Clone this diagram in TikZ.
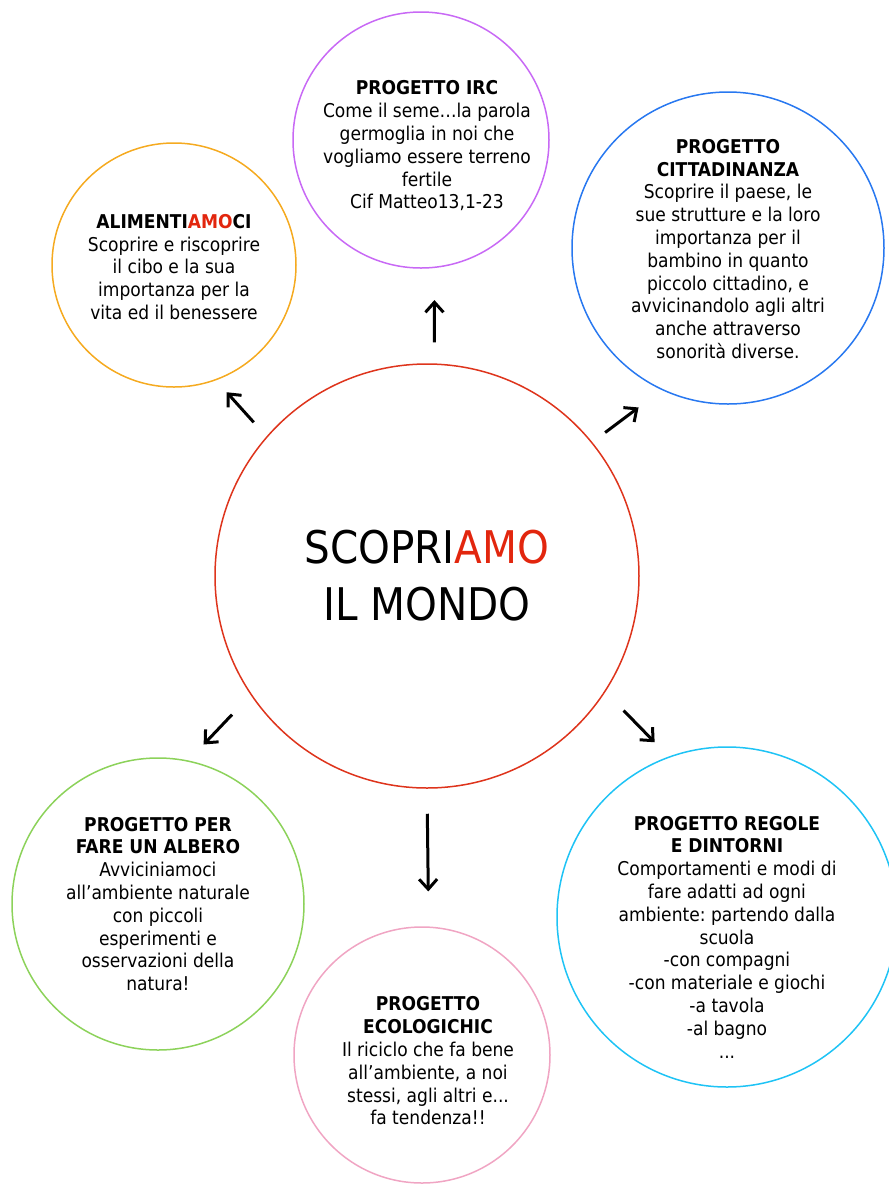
\documentclass[tikz,border=0pt]{standalone}
\usepackage{fontspec}
\setmainfont{DejaVu Sans Condensed}
\frenchspacing
\usetikzlibrary{arrows.meta}
\definecolor{rosso}{RGB}{222,52,28}
\definecolor{amo}{RGB}{226,38,14}
\definecolor{viola}{RGB}{200,105,245}
\definecolor{arancio}{RGB}{245,170,32}
\definecolor{blu}{RGB}{40,120,240}
\definecolor{verde}{RGB}{140,210,90}
\definecolor{rosa}{RGB}{240,165,195}
\definecolor{azzurro}{RGB}{30,195,245}
\begin{document}
\begin{tikzpicture}[x=1pt,y=-1pt,
  bolla/.style={circle,draw,line width=1.5pt,inner sep=0pt},
  testo/.style={align=center,font=\fontsize{19}{22.8}\selectfont},
  freccia/.style={-{Straight Barb[length=10pt,width=18pt]},line width=3pt}]
\useasboundingbox (0,0) rectangle (889,1187);
\node[bolla,draw=rosso,minimum size=424pt] (mondo) at (427,576) {};
\node[bolla,draw=viola,minimum size=256pt] (irc) at (421,140) {};
\node[bolla,draw=arancio,minimum size=244pt] (alim) at (174,265) {};
\node[bolla,draw=blu,minimum size=312pt] (citt) at (728,248) {};
\node[bolla,draw=verde,minimum size=292pt] (albero) at (158,904) {};
\node[bolla,draw=rosa,minimum size=256pt] (eco) at (422,1055) {};
\node[bolla,draw=azzurro,minimum size=340pt] (regole) at (727,917) {};
\node[align=center,font=\fontsize{45}{57}\selectfont] (mondo-t) at (mondo) {SCOPRI\textcolor{amo}{AMO}\\IL MONDO};
\node[testo] (irc-t) at ([shift={(6,6)}]irc) {\textbf{PROGETTO IRC}\\Come il seme…la parola\\germoglia in noi che\\vogliamo essere terreno\\fertile\\Cif Matteo13,1-23};
\node[testo] (alim-t) at ([shift={(0,2)}]alim) {\textbf{ALIMENTI\textcolor{amo}{AMO}CI}\\Scoprire e riscoprire\\il cibo e la sua\\importanza per la\\vita ed il benessere};
\node[testo] (citt-t) at ([shift={(0,1)}]citt) {\textbf{PROGETTO}\\\textbf{CITTADINANZA}\\Scoprire il paese, le\\sue strutture e la loro\\importanza per il\\bambino in quanto\\piccolo cittadino, e\\avvicinandolo agli altri\\anche attraverso\\sonorità diverse.};
\node[testo] (albero-t) at (albero) {\textbf{PROGETTO PER}\\\textbf{FARE UN ALBERO}\\Avviciniamoci\\all’ambiente naturale\\con piccoli\\esperimenti e\\osservazioni della\\natura!};
\node[testo] (eco-t) at ([shift={(6,6)}]eco) {\textbf{PROGETTO}\\\textbf{ECOLOGICHIC}\\Il riciclo che fa bene\\all’ambiente, a noi\\stessi, agli altri e...\\fa tendenza!!};
\node[testo] (regole-t) at ([shift={(0,20)}]regole) {\textbf{PROGETTO REGOLE}\\\textbf{E DINTORNI}\\Comportamenti e modi di\\fare adatti ad ogni\\ambiente: partendo dalla\\scuola\\-con compagni\\-con materiale e giochi\\-a tavola\\-al bagno\\...};
\draw[freccia,shorten <=21pt,shorten >=32pt] (mondo.88) -- (irc.-84);
\draw[freccia,shorten <=19pt,shorten >=16pt] (mondo.139) -- (alim.-70);
\draw[freccia,shorten <=16pt,shorten >=29pt] (mondo.39) -- (citt.-115);
\draw[freccia,shorten <=27pt,shorten >=22pt] (mondo.-146) -- (albero.78);
\draw[freccia,shorten <=25pt,shorten >=35pt] (mondo.-90) -- (eco.87);
\draw[freccia,shorten <=26pt,shorten >=20pt] (mondo.-33) -- (regole.110);
\end{tikzpicture}
\end{document}
